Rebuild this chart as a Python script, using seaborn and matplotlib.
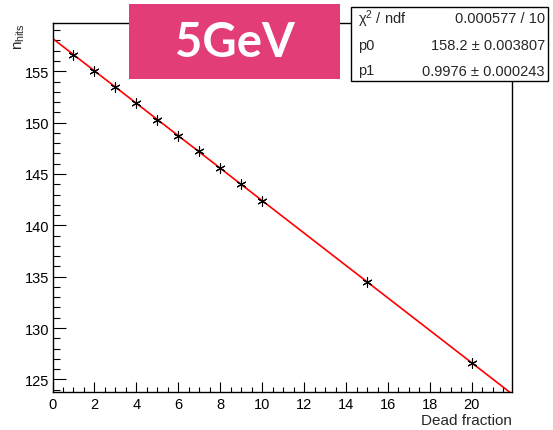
import matplotlib
matplotlib.use("Agg")
import matplotlib.pyplot as plt
import seaborn as sns
import pandas as pd
from matplotlib.patches import Rectangle
from matplotlib.ticker import MultipleLocator

# ---- data ----
dead_fraction = [1, 2, 3, 4, 5, 6, 7, 8, 9, 10, 15, 20]
n_hits = [156.6, 155.0, 153.5, 151.9, 150.3, 148.7, 147.2, 145.6, 144.0, 142.4, 134.5, 126.6]
fit_x = [0.0, 21.9]
fit_y = [158.2, 123.6]
x_ticks = [0, 2, 4, 6, 8, 10, 12, 14, 16, 18, 20]
y_ticks = [125, 130, 135, 140, 145, 150, 155]
stats_labels = ["χ$^{2}$ / ndf", "p0", "p1"]
stats_values = ["0.000577 / 10", "158.2 ± 0.003807", "0.9976 ± 0.000243"]
energy_label = "5GeV"

sns.set_style("white")
plt.rcParams["font.family"] = ["Liberation Sans", "DejaVu Sans"]
plt.rcParams["mathtext.fontset"] = "custom"
plt.rcParams["mathtext.rm"] = "Liberation Sans"
plt.rcParams["mathtext.it"] = "Liberation Sans:italic"

W, H = 553, 431
fig = plt.figure(figsize=(W / 100, H / 100), dpi=100)

def fx(px):
    return px / W

def fy(py):
    return 1 - py / H

left, right, top, bottom = 52.5, 511.7, 24.3, 393.3
ax = fig.add_axes([fx(left), fy(bottom), fx(right) - fx(left), fy(top) - fy(bottom)])

df = pd.DataFrame({"x": dead_fraction, "y": n_hits})
fit = pd.DataFrame({"x": fit_x, "y": fit_y})

sns.lineplot(data=fit, x="x", y="y", ax=ax, color="#ff0000", linewidth=1.2, zorder=2)
sns.scatterplot(data=df, x="x", y="y", ax=ax, marker=(6, 2, 0), s=45,
                color="black", edgecolor="black", linewidth=0.8, zorder=3)

ax.set_xlim(0, 21.9)
ax.set_ylim(123.74, 159.67)
ax.set_xticks(x_ticks)
ax.set_yticks(y_ticks)
ax.xaxis.set_minor_locator(MultipleLocator(0.5))
ax.yaxis.set_minor_locator(MultipleLocator(1))
ax.set_xlabel("")
ax.set_ylabel("")

for s in ax.spines.values():
    s.set_color("black")
    s.set_linewidth(1.0)
    s.set_visible(True)

ax.tick_params(axis="both", which="both", direction="in", colors="black",
               labelsize=10.5, width=0.8)
ax.tick_params(axis="y", which="major", length=9.4, pad=2.5)
ax.tick_params(axis="y", which="minor", length=5.0)
ax.tick_params(axis="x", which="major", length=7.2, pad=3.6)
ax.tick_params(axis="x", which="minor", length=3.6)
ax.tick_params(left=True, bottom=True, which="both")

# axis titles
fig.text(fx(right), fy(425), "Dead fraction", ha="right", va="baseline", fontsize=11)
fig.text(fx(20), fy(23), r"n$_{\mathrm{hits}}$", rotation=90, ha="center", va="top", fontsize=11)

# energy label box
fig.patches.append(Rectangle((fx(129), fy(80)), fx(340) - fx(129), fy(5) - fy(80),
                             transform=fig.transFigure, facecolor="#e23c79",
                             edgecolor="none", zorder=5))
fig.text(fx(234.5), fy(43), energy_label, ha="center", va="center", color="white",
         fontsize=34, fontweight="bold", family="Lato", zorder=6)

# stats box
fig.patches.append(Rectangle((fx(351), fy(82)), fx(548) - fx(351), fy(8.3) - fy(82),
                             transform=fig.transFigure, facecolor="white",
                             edgecolor="black", linewidth=1.0, zorder=5))
rows_y = [19, 46.5, 71.5]
for lab, val, ry in zip(stats_labels, stats_values, rows_y):
    fig.text(fx(358), fy(ry), lab, ha="left", va="center", fontsize=10.5, zorder=6)
    fig.text(fx(545), fy(ry), val, ha="right", va="center", fontsize=10.5, zorder=6)

fig.savefig("out.png", dpi=100)
